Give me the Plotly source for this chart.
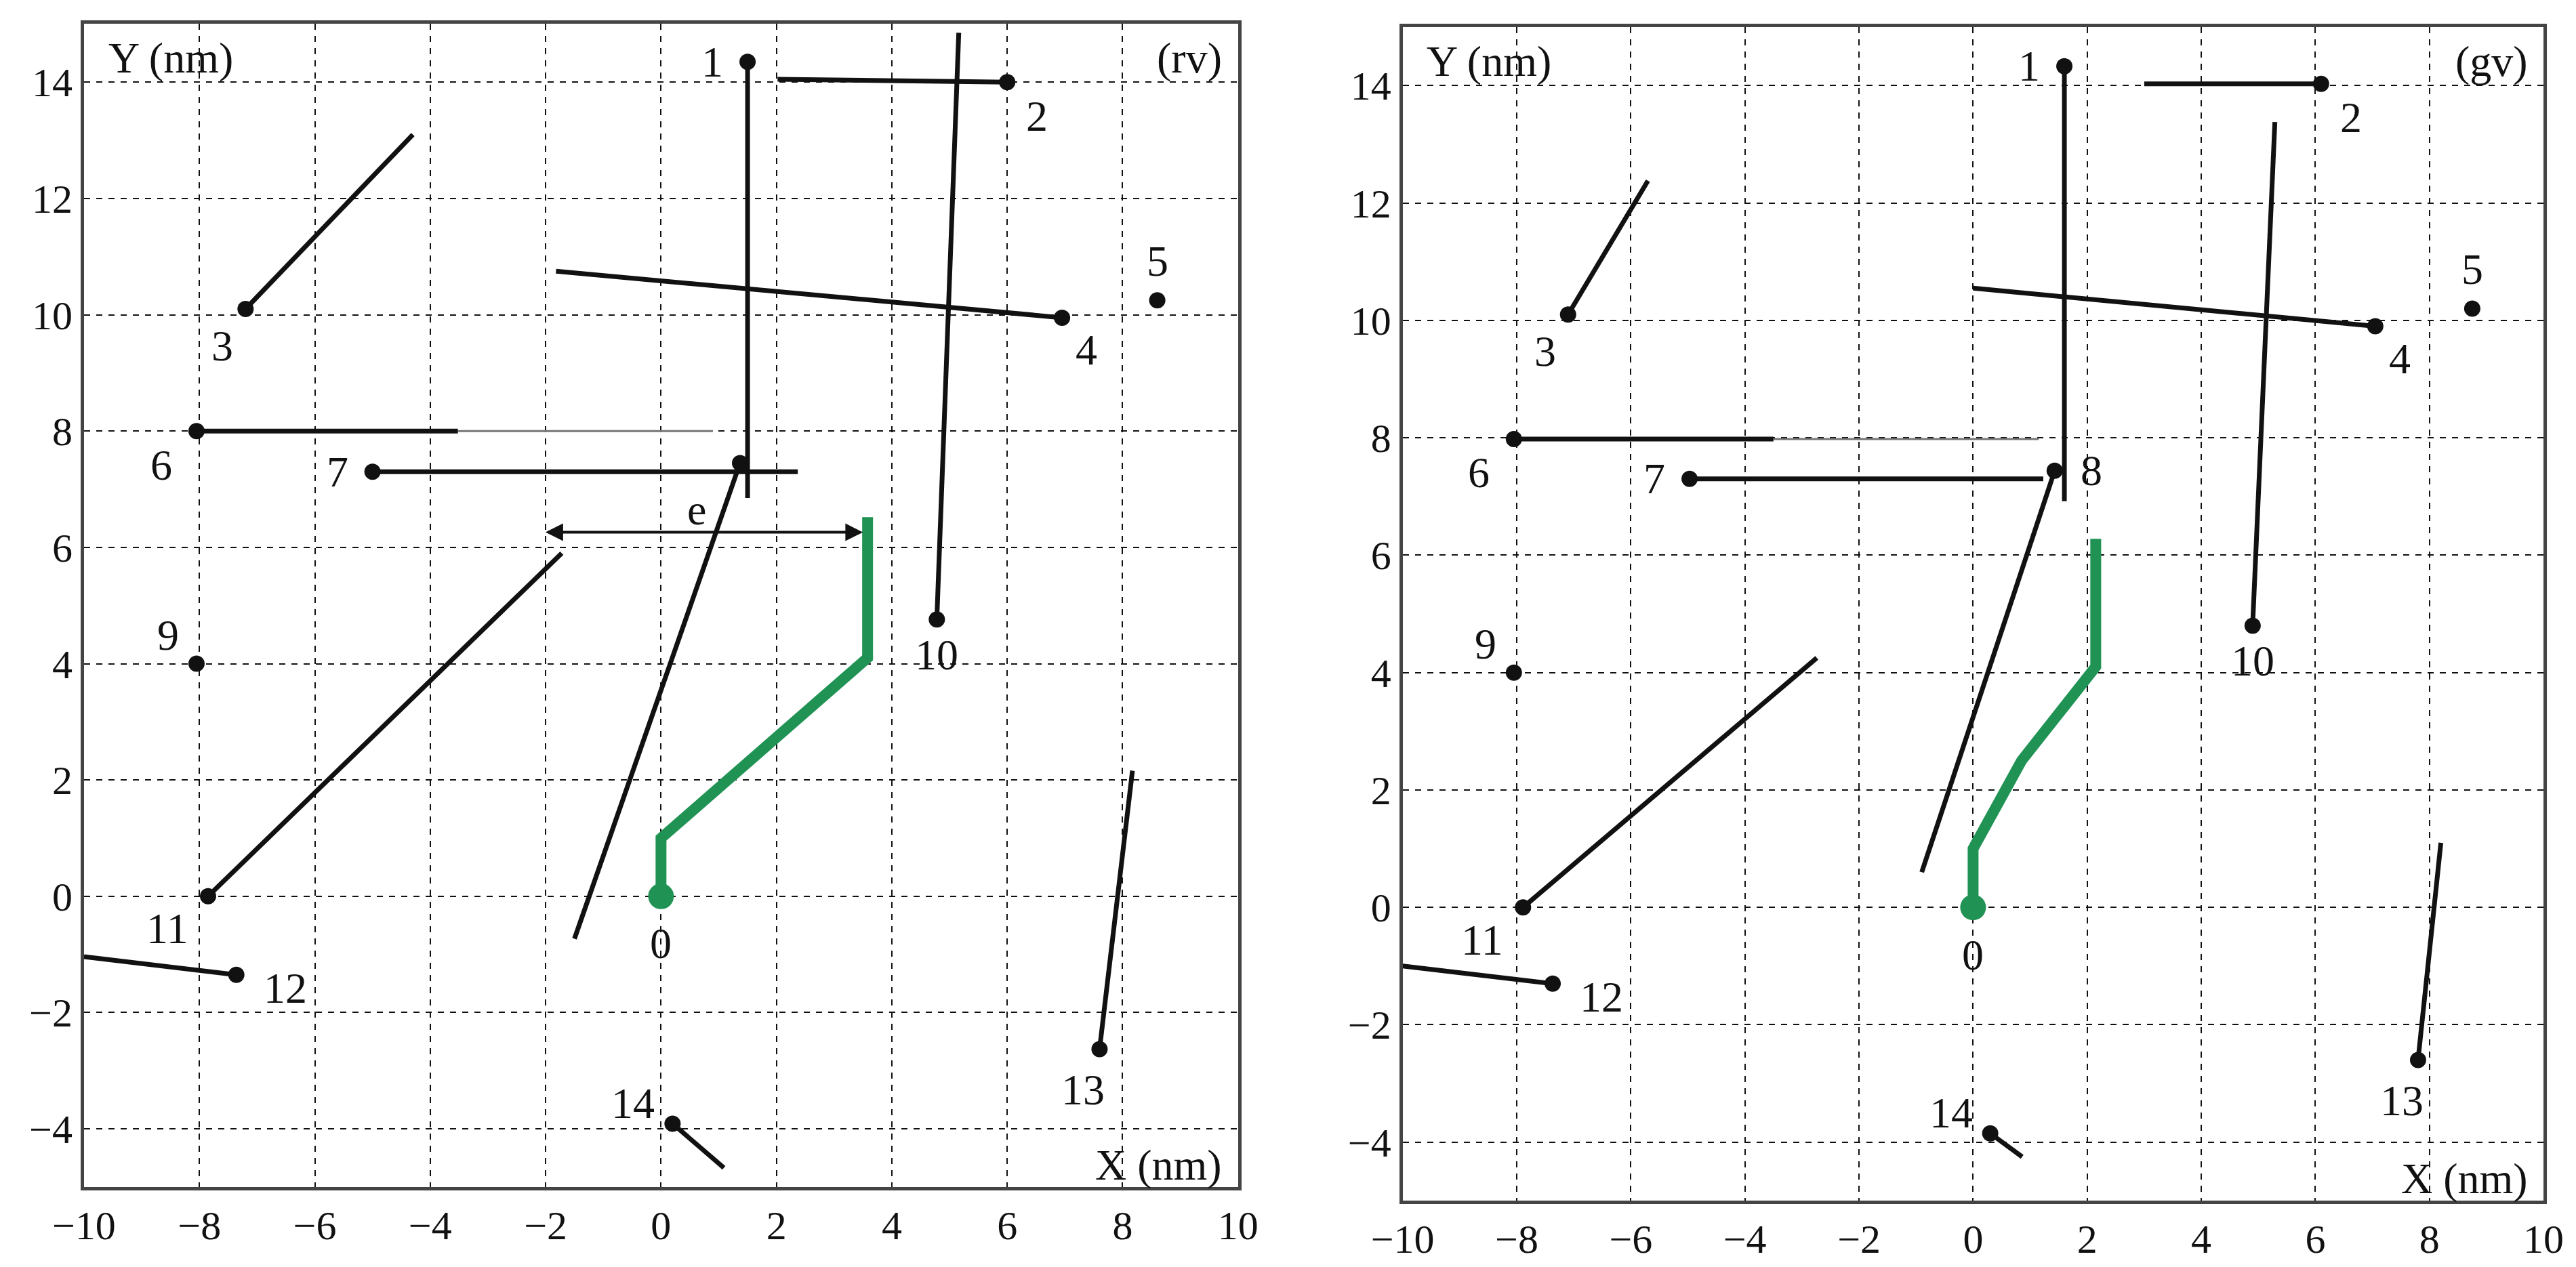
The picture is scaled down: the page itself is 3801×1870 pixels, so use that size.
import plotly.graph_objects as go

# segment ids, dot position, far end of line (None = dot only)
seg_ids = ['1', '2', '3', '4', '5', '6', '7', '8', '9', '10', '11', '12', '13', '14']

rv_dot_x = [1.5, 6.0, -7.2, 6.95, 8.6, -8.05, -5.0, 1.37, -8.05, 4.78, -7.85, -7.36, 7.6, 0.2]
rv_dot_y = [14.35, 14.0, 10.1, 9.95, 10.25, 8.0, 7.3, 7.45, 4.0, 4.76, 0.0, -1.35, -2.63, -3.91]
rv_end_x = [1.5, 2.02, -4.3, -1.82, None, -3.52, 2.37, -1.5, None, 5.16, -1.72, -10.0, 8.17, 1.09]
rv_end_y = [6.85, 14.05, 13.1, 10.75, None, 8.0, 7.3, -0.73, None, 14.85, 5.9, -1.04, 2.16, -4.67]
rv_thin_x = [-3.52, 0.9]
rv_thin_y = [8.0, 8.0]
rv_path_x = [0, 0, 3.58, 3.58]
rv_path_y = [0, 1.0, 4.1, 6.52]
rv_e = [-2.02, 3.5, 6.26]

gv_dot_x = [1.6, 6.1, -7.1, 7.05, 8.75, -8.05, -4.97, 1.43, -8.05, 4.9, -7.89, -7.37, 7.8, 0.3]
gv_dot_y = [14.33, 14.03, 10.1, 9.9, 10.2, 7.98, 7.3, 7.44, 4.0, 4.8, 0.0, -1.3, -2.6, -3.85]
gv_end_x = [1.6, 3.0, -5.7, 0.0, None, -3.5, 1.23, -0.9, None, 5.29, -2.74, -10.0, 8.2, 0.86]
gv_end_y = [6.92, 14.03, 12.38, 10.55, None, 7.98, 7.3, 0.6, None, 13.38, 4.25, -1.0, 1.1, -4.25]
gv_thin_x = [-3.5, 1.15]
gv_thin_y = [7.98, 7.98]
gv_path_x = [0, 0, 0.85, 2.15, 2.15]
gv_path_y = [0, 1.0, 2.5, 4.1, 6.28]

# label offsets in px (right, down)
lab_off = {'1': (-52, 0), '2': (44, 50), '3': (-34, 54), '4': (36, 48), '5': (0, -58),
           '6': (-52, 50), '7': (-52, 0), '8': (54, 0), '9': (-42, -42), '10': (0, 52),
           '11': (-60, 48), '12': (72, 20), '13': (-24, 60), '14': (-58, -30), '0': (0, 70)}

W, H = 3801, 1870
FONT = 'Liberation Serif'
FS = 64
BLACK = '#111111'
GREEN = '#1f9254'

fig = go.Figure()
panels = [
    ('x', 'y', rv_dot_x, rv_dot_y, rv_end_x, rv_end_y, rv_thin_x, rv_thin_y, rv_path_x, rv_path_y, '(rv)', False),
    ('x2', 'y2', gv_dot_x, gv_dot_y, gv_end_x, gv_end_y, gv_thin_x, gv_thin_y, gv_path_x, gv_path_y, '(gv)', True),
]
ann = []
for xa, ya, dx, dy, ex, ey, tx, ty, px, py, tag, show8 in panels:
    fig.add_trace(go.Scatter(x=tx, y=ty, xaxis=xa, yaxis=ya, mode='lines',
                             line=dict(color='#777777', width=3), hoverinfo='skip'))
    lx, ly = [], []
    for i in range(len(seg_ids)):
        if ex[i] is not None:
            lx += [dx[i], ex[i], None]
            ly += [dy[i], ey[i], None]
    fig.add_trace(go.Scatter(x=lx, y=ly, xaxis=xa, yaxis=ya, mode='lines',
                             line=dict(color=BLACK, width=7)))
    fig.add_trace(go.Scatter(x=dx, y=dy, xaxis=xa, yaxis=ya, mode='markers',
                             marker=dict(color=BLACK, size=24)))
    fig.add_trace(go.Scatter(x=px, y=py, xaxis=xa, yaxis=ya, mode='lines',
                             line=dict(color=GREEN, width=16)))
    fig.add_trace(go.Scatter(x=px[:1], y=py[:1], xaxis=xa, yaxis=ya, mode='markers',
                             marker=dict(color=GREEN, size=38)))
    for i, s in enumerate(seg_ids):
        if s == '8' and not show8:
            continue
        ox, oy = lab_off[s]
        ann.append(dict(x=dx[i], y=dy[i], xref=xa, yref=ya, text=s, showarrow=False,
                        xshift=ox, yshift=-oy, font=dict(size=FS, family=FONT, color=BLACK)))
    ox, oy = lab_off['0']
    ann.append(dict(x=px[0], y=py[0], xref=xa, yref=ya, text='0', showarrow=False,
                    xshift=ox, yshift=-oy, font=dict(size=FS, family=FONT, color=BLACK)))
    for txt, x, y, anc in [(tag, 9.75, 14.42, 'right'), ('Y (nm)', -9.6, 14.42, 'left'),
                           ('X (nm)', 9.75, -4.62, 'right')]:
        ann.append(dict(x=x, y=y, xref=xa, yref=ya, text=txt, showarrow=False, xanchor=anc,
                        font=dict(size=FS, family=FONT, color=BLACK)))

# double arrow "e"
ann.append(dict(x=rv_e[1], y=rv_e[2], ax=rv_e[0], ay=rv_e[2], xref='x', yref='y', axref='x', ayref='y',
                text='', showarrow=True, arrowhead=2, arrowside='end+start', arrowsize=1.3,
                arrowwidth=4, arrowcolor=BLACK))
ann.append(dict(x=0.62, y=6.65, xref='x', yref='y', text='e', showarrow=False,
                font=dict(size=FS, family=FONT, color=BLACK)))

ax_common = dict(showgrid=True, gridcolor=BLACK, griddash='dash', gridwidth=2, automargin=False,
                 showline=True, mirror=True, linecolor='#444444', linewidth=5,
                 zeroline=False, ticks='', tickfont=dict(size=60, family=FONT, color=BLACK))
fig.update_layout(
    width=W, height=H, showlegend=False, plot_bgcolor='white', paper_bgcolor='white',
    margin=dict(l=0, r=0, t=0, b=0), annotations=ann,
    xaxis=dict(ax_common, domain=[0.0305, 0.4785], range=[-10, 10], dtick=2),
    yaxis=dict(ax_common, domain=[0.0674, 0.9853], range=[-5, 15], tickvals=list(range(-4, 15, 2))),
    xaxis2=dict(ax_common, domain=[0.5424, 0.9853], range=[-10, 10], dtick=2, anchor='y2'),
    yaxis2=dict(ax_common, domain=[0.0565, 0.983], range=[-5, 15], tickvals=list(range(-4, 15, 2)),
                anchor='x2'),
)
fig.write_html('out.html')
